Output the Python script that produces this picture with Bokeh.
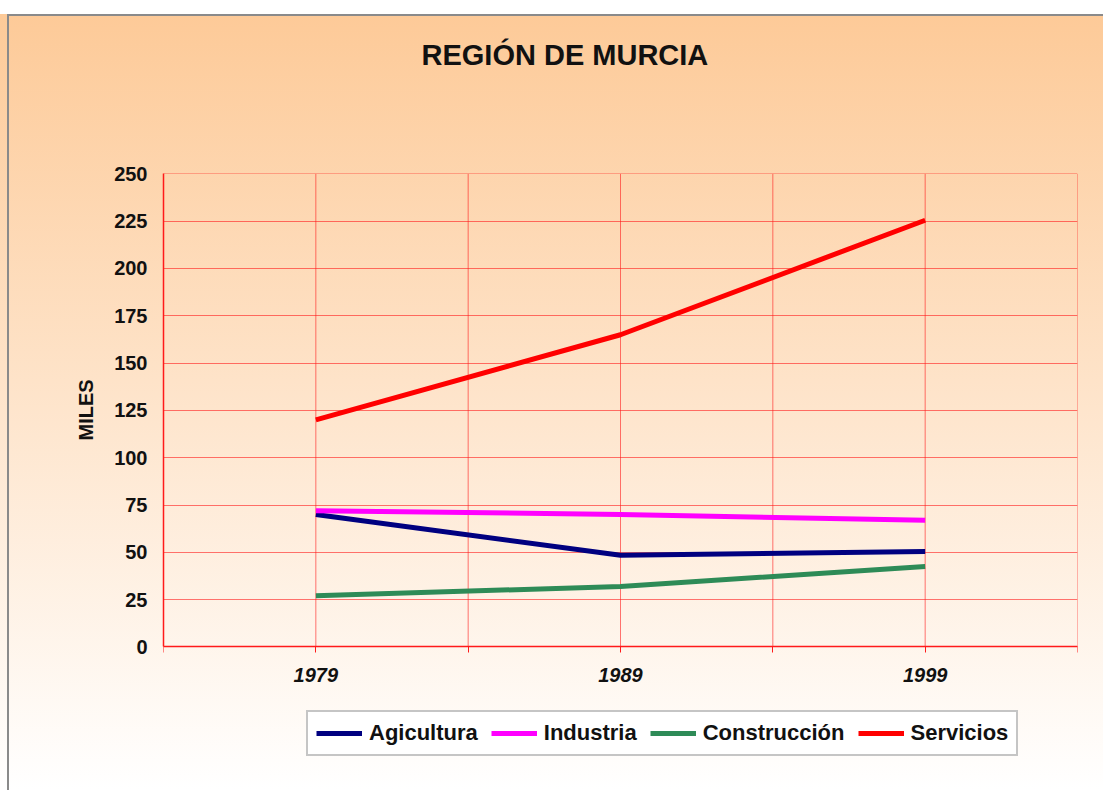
from bokeh.plotting import figure
from bokeh.models import Range1d, FixedTicker, Legend, LegendItem, Title
from bokeh.embed import file_html
from bokeh.resources import INLINE

# ---- data ----
years = [1979, 1989, 1999]
agicultura = [70, 48.5, 50.5]
industria = [72, 70, 67]
construccion = [27, 32, 42.5]
servicios = [120, 165, 225.5]
series_names = ["Agicultura", "Industria", "Construcción", "Servicios"]
series_values = [agicultura, industria, construccion, servicios]
series_colors = ["#000080", "#FF00FF", "#2E8B57", "#FF0000"]
y_ticks = [0, 25, 50, 75, 100, 125, 150, 175, 200, 225, 250]
x_grid_ticks = [1974, 1979, 1984, 1989, 1994, 1999, 2004]
x_labels = {1974: "", 1979: "1979", 1984: "", 1989: "1989", 1994: "", 1999: "1999", 2004: ""}
title_text = "REGIÓN DE MURCIA"
y_title = "MILES"

FONT = "Liberation Sans"
RED = "#ff1a1a"

# the frame extends below y=0 to host the legend (kept inside the frame so it is not clipped)
p = figure(width=1103, height=790, output_backend="svg", toolbar_location=None,
           x_range=Range1d(x_grid_ticks[0], x_grid_ticks[-1]), y_range=Range1d(-60, 250.2),
           min_border_left=163, min_border_right=26, min_border_top=172, min_border_bottom=30)

p.background_fill_alpha = 0
p.border_fill_alpha = 0
p.outline_line_color = None

p.styles = {
    "background": (
        "linear-gradient(#8a8a8a, #8a8a8a) 8px 14px / 100% 2px no-repeat, "
        "linear-gradient(#8a8a8a, #8a8a8a) 7px 14px / 2px 100% no-repeat, "
        "linear-gradient(to bottom, #ffffff 0px, #ffffff 14px, #fdca98 14px, #ffffff 790px)"
    )
}

# spacer between frame and title
spacer = Title(text=" ", text_font_size="10px", standoff=49)
p.add_layout(spacer, "above")

# main title (outermost)
p.title.text = title_text
p.title.align = "left"
p.title.offset = 258
p.title.vertical_align = "top"
p.title.standoff = 77
p.title.text_font = FONT
p.title.text_font_size = "29px"
p.title.text_font_style = "bold"
p.title.text_color = "#111111"

# grids: horizontal via ygrid, vertical lines limited to the 0..250 band
p.xgrid.visible = False
p.ygrid.ticker = FixedTicker(ticks=y_ticks)
p.ygrid.grid_line_color = RED
p.ygrid.grid_line_alpha = 0.6
p.ygrid.grid_line_width = 1
p.segment(x0=x_grid_ticks, y0=[y_ticks[0]] * len(x_grid_ticks),
          x1=x_grid_ticks, y1=[y_ticks[-1]] * len(x_grid_ticks),
          line_color=RED, line_alpha=0.6, line_width=1)

# x axis at y = 0
xa = p.xaxis[0]
xa.fixed_location = 0
xa.ticker = FixedTicker(ticks=x_grid_ticks)
xa.major_label_overrides = x_labels
xa.axis_line_color = RED
xa.axis_line_width = 1.5
xa.major_tick_line_color = RED
xa.major_tick_out = 6
xa.major_tick_in = 0
xa.minor_tick_line_color = None
xa.major_label_standoff = 15
xa.major_label_text_font = FONT
xa.major_label_text_font_size = "20px"
xa.major_label_text_font_style = "bold italic"
xa.major_label_text_color = "#111111"

# y axis
ya = p.yaxis[0]
ya.bounds = (y_ticks[0], y_ticks[-1])
ya.ticker = FixedTicker(ticks=y_ticks)
ya.axis_line_color = RED
ya.axis_line_width = 1.5
ya.major_tick_line_color = None
ya.major_tick_out = 0
ya.major_tick_in = 0
ya.minor_tick_line_color = None
ya.major_label_standoff = 16
ya.major_label_text_font = FONT
ya.major_label_text_font_size = "20px"
ya.major_label_text_font_style = "bold"
ya.major_label_text_color = "#111111"

# y-axis title, centred on the 0..250 band
ytitle = Title(text=y_title, align="left", offset=320, vertical_align="middle", standoff=27,
               text_font=FONT, text_font_size="20px", text_font_style="bold",
               text_color="#111111")
p.add_layout(ytitle, "left")

# lines
items = []
for name, vals, col in zip(series_names, series_values, series_colors):
    r = p.line(years, vals, line_color=col, line_width=5)
    items.append(LegendItem(label=name, renderers=[r]))

legend = Legend(items=items, orientation="horizontal", location=(143, 4),
                label_text_font=FONT, label_text_font_size="22px",
                label_text_font_style="bold", label_text_color="#111111",
                glyph_width=46, glyph_height=20, label_height=26, label_standoff=7,
                spacing=13, padding=8, margin=0,
                border_line_color="#8c8c8c", border_line_width=2,
                background_fill_color="white", background_fill_alpha=1)
p.add_layout(legend, "center")

open("out.html", "w").write(file_html(p, INLINE))
